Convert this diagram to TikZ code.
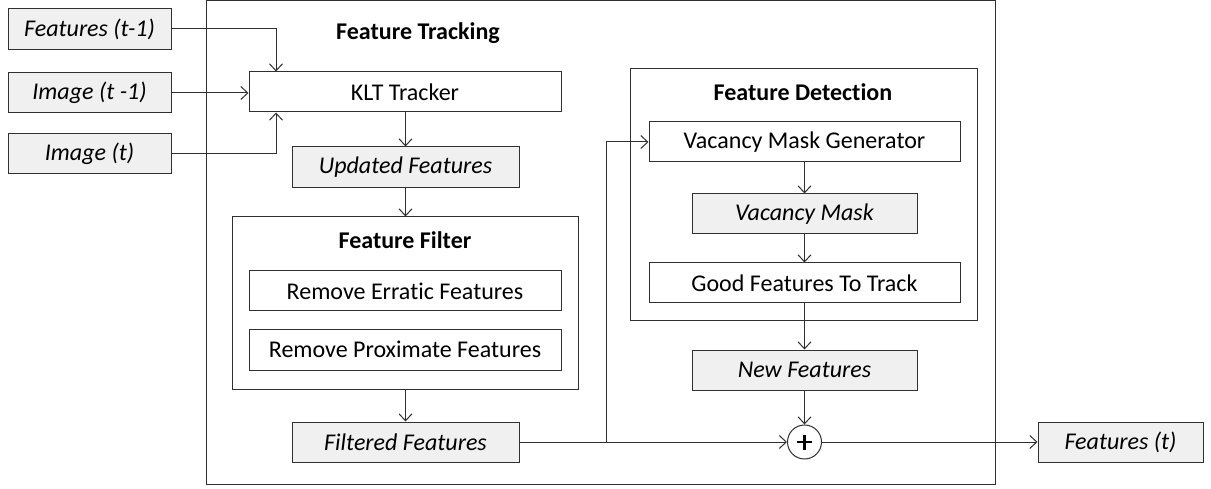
\documentclass[tikz,border=0pt]{standalone}
\usepackage{fontspec}
\setmainfont{Carlito}[Ligatures=NoCommon]
\usetikzlibrary{arrows.meta}
\definecolor{lc}{HTML}{303030}
\definecolor{gfill}{HTML}{F0F0F0}
\tikzset{
  box/.style={draw=lc, line width=1pt, fill=white, inner sep=0pt, font=\fontsize{24}{28}\selectfont},
  gbox/.style={box, fill=gfill, font=\fontsize{24}{28}\selectfont\itshape},
  frame/.style={draw=lc, line width=1pt, inner sep=0pt},
  title/.style={font=\fontsize{24}{28}\selectfont\bfseries, inner sep=0pt},
  arr/.style={draw=lc, line width=1pt, -{Straight Barb[length=7pt,width=13pt,line width=1pt]}},
  ln/.style={draw=lc, line width=1pt},
}
\begin{document}
\begin{tikzpicture}[x=1pt,y=-1pt]
\useasboundingbox (0,0) rectangle (1211,489);
% frames
\node[frame, minimum width=789pt, minimum height=484pt] (outer) at (600.5,242.5) {};
\node[title] (ttrack) at (418,33) {Feature Tracking};
\node[frame, minimum width=346pt, minimum height=172pt] (filter) at (405,303) {};
\node[title] (tfilter) at (405,240) {Feature Filter};
\node[frame, minimum width=347pt, minimum height=252pt] (detect) at (803.5,195) {};
\node[title] (tdetect) at (803,92) {Feature Detection};
% inputs
\node[gbox, minimum width=163pt, minimum height=41pt] (fin1) at (89.5,29) {Features (t-1)};
\node[gbox, minimum width=163pt, minimum height=40pt] (img1) at (89.5,93) {Image (t -1)};
\node[gbox, minimum width=163pt, minimum height=40pt] (img2) at (89.5,153.5) {Image (t)};
% tracking column
\node[box, minimum width=312pt, minimum height=40pt] (klt) at (405,92) {KLT Tracker};
\node[gbox, minimum width=227pt, minimum height=41pt] (upd) at (405.5,167.5) {Updated Features};
\node[box, minimum width=312pt, minimum height=40pt] (err) at (405,291) {Remove Erratic Features};
\node[box, minimum width=312pt, minimum height=41pt] (prox) at (405,349.5) {Remove Proximate Features};
\node[gbox, minimum width=227pt, minimum height=40pt] (filt) at (405.5,442) {Filtered Features};
% detection column
\node[box, minimum width=311pt, minimum height=40pt] (vmg) at (804.5,142) {Vacancy Mask Generator};
\node[gbox, minimum width=225pt, minimum height=40pt] (vm) at (804.5,214) {Vacancy Mask};
\node[box, minimum width=311pt, minimum height=40pt] (gft) at (804.5,283) {Good Features To Track};
\node[gbox, minimum width=225pt, minimum height=40pt] (newf) at (804.5,370) {New Features};
\node[draw=lc, line width=1pt, circle, minimum size=34pt, inner sep=0pt, fill=white,
  path picture={\draw[black, line width=2.2pt] ([xshift=-7.5pt]path picture bounding box.center) -- ([xshift=7.5pt]path picture bounding box.center);
                \draw[black, line width=2.2pt] ([yshift=-7.5pt]path picture bounding box.center) -- ([yshift=7.5pt]path picture bounding box.center);}] (plus) at (804.5,442) {};
\node[gbox, minimum width=165pt, minimum height=40pt] (fout) at (1120.5,442) {Features (t)};
% connectors
\coordinate (kltA) at ([xshift=-129pt]klt.north);
\coordinate (kltB) at ([xshift=-129pt]klt.south);
\draw[arr] (fin1.east) -| (kltA);
\draw[arr] (img1.east) -- (img1.east -| klt.west);
\draw[arr] (img2.east) -| (kltB);
\draw[arr] (klt.south -| upd.north) -- (upd.north);
\draw[arr] (upd.south) -- (upd.south |- filter.north);
\draw[arr] (filt.north |- filter.south) -- (filt.north);
\coordinate (j) at (606,442);
\draw[ln] (filt.east) -- (j);
\draw[arr] (j) |- (vmg.west);
\draw[arr] (filt.east) -- (plus.west);
\draw[arr] (vmg.south) -- (vm.north);
\draw[arr] (vm.south) -- (gft.north);
\draw[arr] (gft.south) -- (newf.north);
\draw[arr] (newf.south) -- (plus.north);
\draw[arr] (plus.east) -- (fout.west);
\end{tikzpicture}
\end{document}
